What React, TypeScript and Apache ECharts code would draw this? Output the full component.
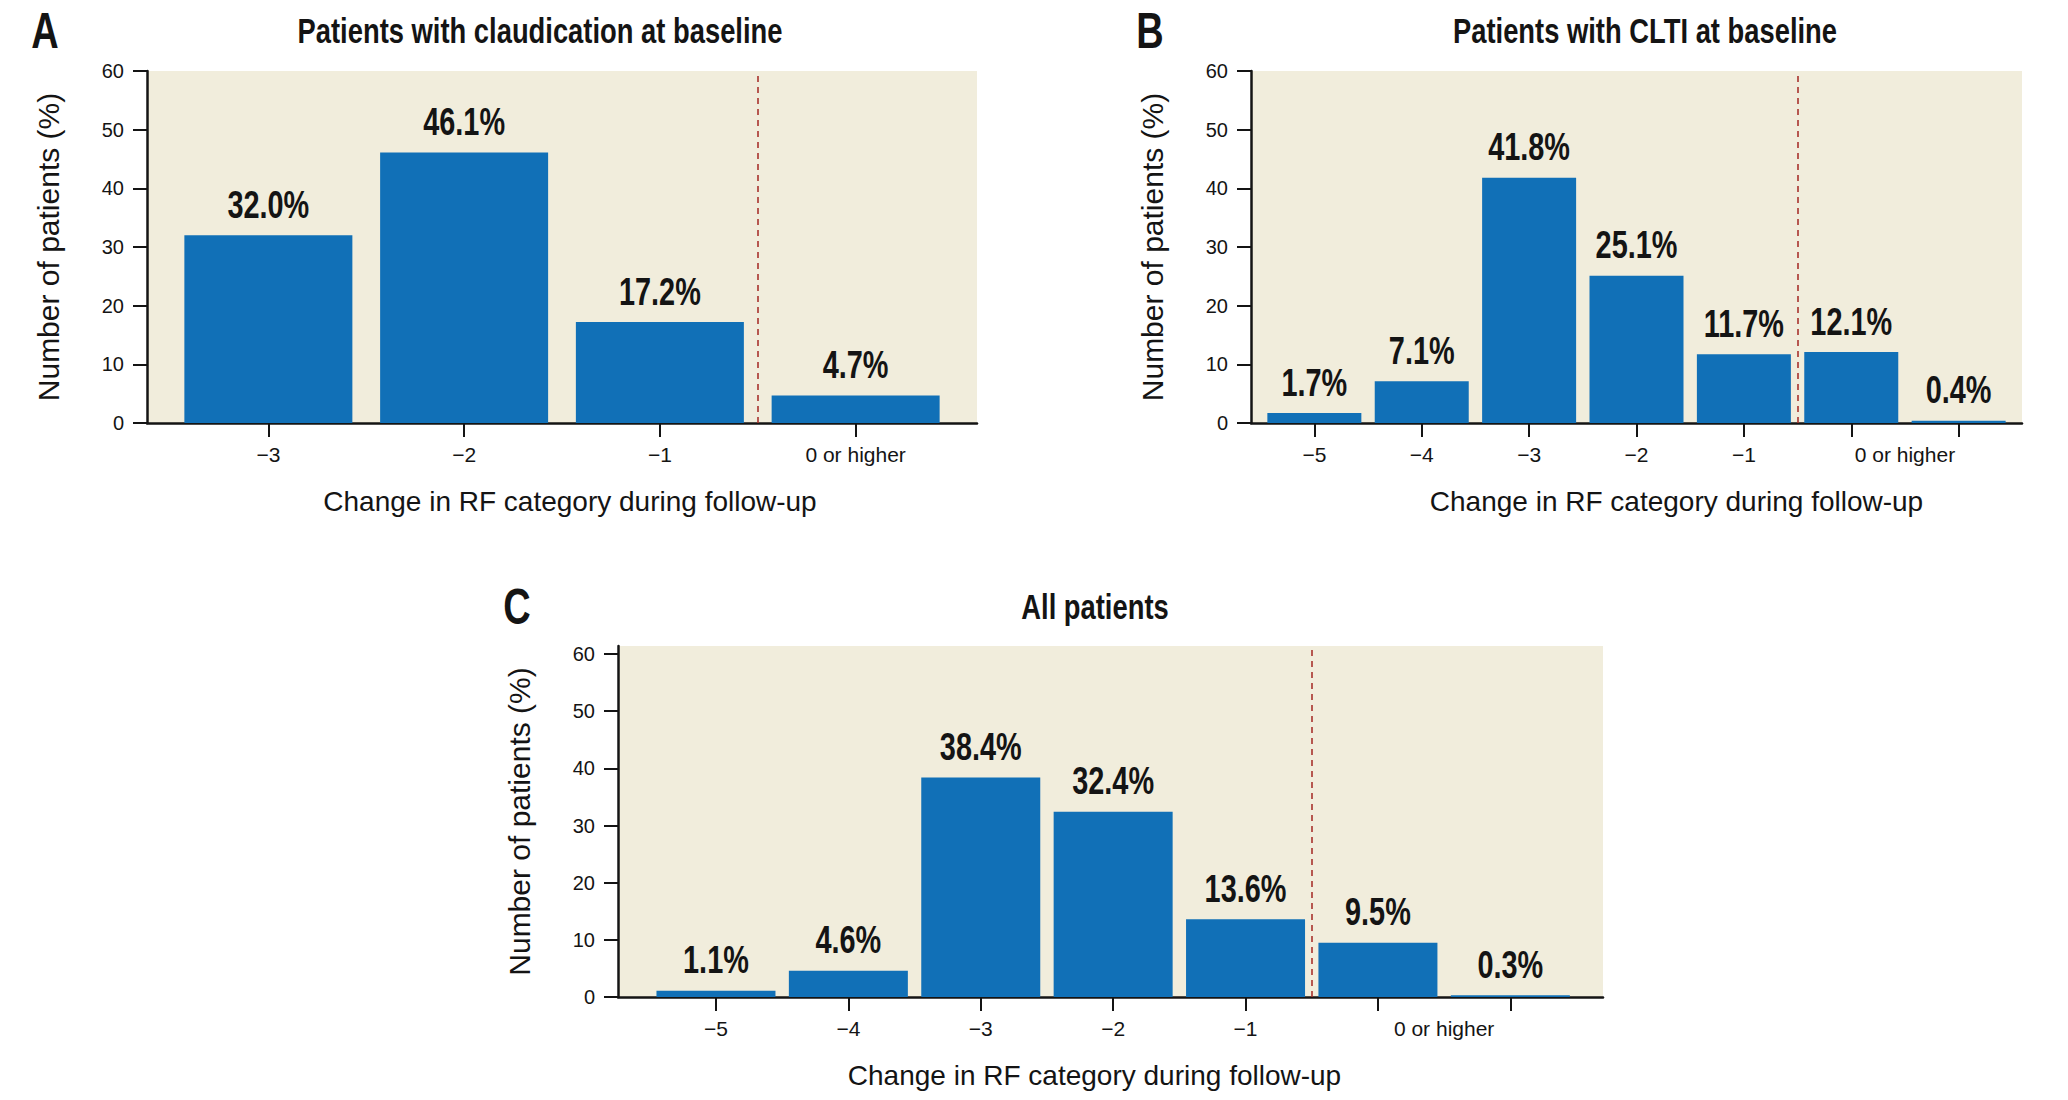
import React, { useEffect, useRef } from 'react';
import * as echarts from 'echarts';

// ---------- data ----------
const titleA = 'Patients with claudication at baseline';
const titleB = 'Patients with CLTI at baseline';
const titleC = 'All patients';
const panelLetters = ['A', 'B', 'C'];

const labelsA = ['\u22123', '\u22122', '\u22121', '0 or higher'];
const labelPosA = [0, 1, 2, 3];
const tickPosA = [0, 1, 2, 3];
const valuesA = [32.0, 46.1, 17.2, 4.7];
const dividerA = 2.5;

const labelsBC = ['\u22125', '\u22124', '\u22123', '\u22122', '\u22121', '0 or higher'];
const labelPosBC = [0, 1, 2, 3, 4, 5.5];
const tickPosBC = [0, 1, 2, 3, 4, 5, 6];
const valuesB = [1.7, 7.1, 41.8, 25.1, 11.7, 12.1, 0.4];
const valuesC = [1.1, 4.6, 38.4, 32.4, 13.6, 9.5, 0.3];
const dividerBC = 4.5;

const yTicks = [0, 10, 20, 30, 40, 50, 60];
const xName = 'Change in RF category during follow-up';
const yName = 'Number of patients (%)';

// ---------- styles ----------
const SANS = "'Liberation Sans', Arial, sans-serif";
const INK = '#141414';
const BLUE = '#1170B7';
const BG = '#F1EDDC';
const DASH = '#A8322D';
const CONDENSE = 0.76;

function xAxisFor(gridIndex: number, min: number, max: number, ticks: number[], pos: number[], labels: string[], shift: number) {
  return {
    type: 'value',
    gridIndex,
    min,
    max,
    axisLine: { show: true, onZero: false, lineStyle: { color: INK, width: 2.5 } },
    axisTick: { show: true, length: 14, customValues: ticks, lineStyle: { color: INK, width: 2 } },
    axisLabel: {
      customValues: pos,
      formatter: (v: number) => {
        const i = pos.indexOf(v);
        return i >= 0 ? labels[i] : '';
      },
      margin: 21,
      fontFamily: SANS,
      fontSize: 21,
      color: INK,
    },
    splitLine: { show: false },
    name: xName,
    nameLocation: 'middle',
    nameGap: 64,
    nameTextStyle: {
      fontFamily: SANS,
      fontSize: 28,
      color: INK,
      padding: shift >= 0 ? [0, 0, 0, 2 * shift] : [0, -2 * shift, 0, 0],
    },
  };
}

function yAxisFor(gridIndex: number, max: number) {
  return {
    type: 'value',
    gridIndex,
    min: 0,
    max,
    axisLine: { show: true, onZero: false, lineStyle: { color: INK, width: 2.5 } },
    axisTick: { show: true, length: 14, customValues: yTicks, lineStyle: { color: INK, width: 2 } },
    axisLabel: { customValues: yTicks, margin: 23, fontFamily: SANS, fontSize: 20, color: INK },
    splitLine: { show: false },
    name: yName,
    nameLocation: 'middle',
    nameGap: 84,
    nameRotate: 90,
    nameTextStyle: { fontFamily: SANS, fontSize: 30, color: INK },
  };
}

function barSeries(idx: number, values: number[], barWidth: number, divider: number) {
  return {
    type: 'bar',
    xAxisIndex: idx,
    yAxisIndex: idx,
    data: values.map((v, i) => [i, v]),
    barWidth,
    itemStyle: { color: BLUE },
    markLine: {
      silent: true,
      symbol: 'none',
      label: { show: false },
      lineStyle: { color: DASH, type: [6, 5], width: 1.6 },
      data: [{ xAxis: divider }],
    },
  };
}

function valueLabels(idx: number, values: number[]) {
  return {
    type: 'custom',
    coordinateSystem: 'cartesian2d',
    xAxisIndex: idx,
    yAxisIndex: idx,
    data: values.map((v, i) => [i, v]),
    encode: { x: 0, y: 1 },
    silent: true,
    z: 5,
    renderItem: (_params: any, api: any) => {
      const xv = api.value(0);
      const yv = api.value(1);
      const pt = api.coord([xv, yv]);
      return {
        type: 'text',
        x: pt[0],
        y: pt[1] - 12,
        scaleX: CONDENSE,
        style: {
          text: `${Number(yv).toFixed(1)}%`,
          fill: INK,
          font: `bold 38px ${SANS}`,
          align: 'center',
          verticalAlign: 'bottom',
        },
      };
    },
  };
}

function headText(text: string, x: number, y: number, size: number) {
  return {
    type: 'text',
    x,
    y,
    scaleX: CONDENSE,
    style: {
      text,
      fill: INK,
      font: `bold ${size}px ${SANS}`,
      align: 'center',
      verticalAlign: 'middle',
    },
  };
}

export default function App() {
  const ref = useRef<HTMLDivElement>(null);
  useEffect(() => {
    if (!ref.current) return;
    const chart = echarts.init(ref.current, undefined, { renderer: 'svg' });
    chart.setOption({
      animation: false,
      backgroundColor: '#ffffff',
      grid: [
        { left: 147, top: 71, width: 830, height: 352, show: true, backgroundColor: BG, borderWidth: 0 },
        { left: 1251, top: 71, width: 771, height: 352, show: true, backgroundColor: BG, borderWidth: 0 },
        { left: 618, top: 646, width: 985, height: 351, show: true, backgroundColor: BG, borderWidth: 0 },
      ],
      xAxis: [
        xAxisFor(0, -0.62, 3.62, tickPosA, labelPosA, labelsA, 8),
        xAxisFor(1, -0.59, 6.59, tickPosBC, labelPosBC, labelsBC, 40),
        xAxisFor(2, -0.74, 6.7, tickPosBC, labelPosBC, labelsBC, -16),
      ],
      yAxis: [yAxisFor(0, 60), yAxisFor(1, 60), yAxisFor(2, 61.4)],
      series: [
        barSeries(0, valuesA, 168, dividerA),
        barSeries(1, valuesB, 94, dividerBC),
        barSeries(2, valuesC, 119, dividerBC),
        valueLabels(0, valuesA),
        valueLabels(1, valuesB),
        valueLabels(2, valuesC),
      ],
      graphic: [
        headText(panelLetters[0], 45, 31, 50),
        headText(panelLetters[1], 1150, 31, 50),
        headText(panelLetters[2], 517, 607, 50),
        headText(titleA, 540, 31, 36),
        headText(titleB, 1645, 31, 36),
        headText(titleC, 1095, 607, 36),
      ],
    });
    return () => chart.dispose();
  }, []);
  return (
    <div
      ref={ref}
      style={{ position: 'absolute', left: 0, top: 0, width: 2068, height: 1100, background: '#fff' }}
    />
  );
}
